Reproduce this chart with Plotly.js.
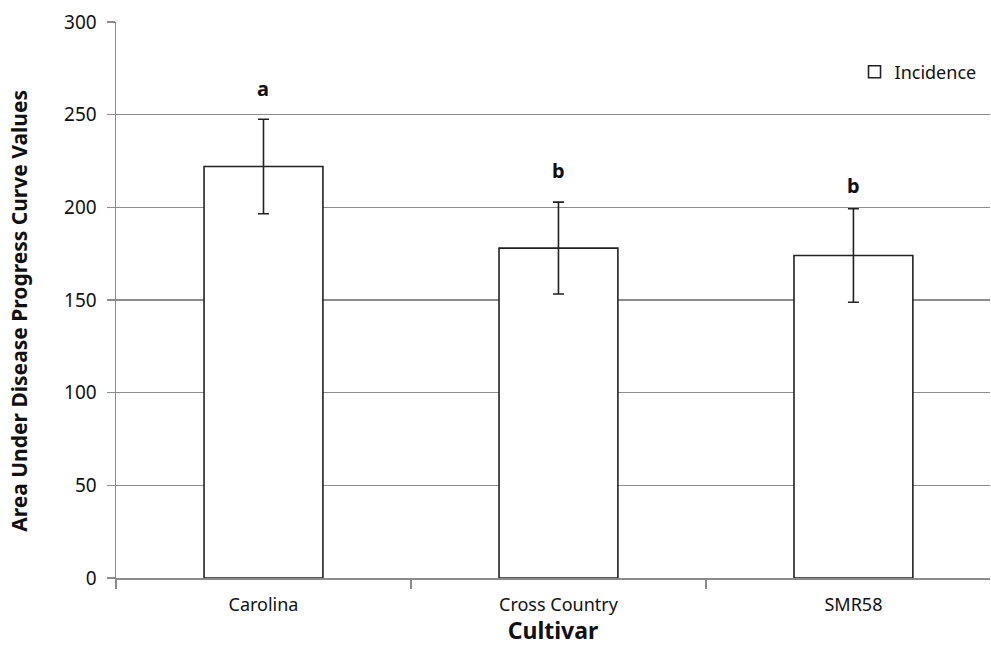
<!DOCTYPE html>
<html><head><meta charset="utf-8">
<script src="https://cdn.plot.ly/plotly-3.0.1.min.js"></script>
<style>body{margin:0;background:#fff}#chart{width:991px;height:646px}</style>
</head><body><div id="chart"></div>
<script>
const categories = ["Carolina", "Cross Country", "SMR58"];
const values = [222, 178, 174];
const errors = [25.5, 24.8, 25.2];
const letters = ["a", "b", "b"];
const letterY = [264, 220, 212];
const seriesName = "Incidence";

const FONT = "Noto Sans, Open Sans, sans-serif";
const trace = {
  type: "bar", x: categories, y: values, name: seriesName,
  width: 0.403,
  marker: {color: "#ffffff", line: {color: "#222222", width: 1.6}},
  error_y: {type: "data", array: errors, visible: true, color: "#222222", thickness: 1.6, width: 5.5},
  showlegend: true
};
const annotations = categories.map((c, i) => ({
  x: c, y: letterY[i], xref: "x", yref: "y", text: "<b>" + letters[i] + "</b>",
  showarrow: false, font: {family: FONT, size: 20, color: "#111"}
}));
const layout = {
  width: 991, height: 646,
  margin: {l: 116, r: 1, t: 22, b: 68},
  paper_bgcolor: "#fff", plot_bgcolor: "#fff",
  font: {family: FONT, size: 18, color: "#111"},
  xaxis: {
    type: "category", range: [-0.5, 2.463],
    showline: true, linecolor: "#8c8c8c", linewidth: 1.5,
    ticks: "outside", tickson: "boundaries", ticklen: 9, tickcolor: "#8c8c8c", tickwidth: 1.5,
    ticklabelstandoff: 10,
    tickfont: {family: FONT, size: 18, color: "#111"},
    title: {text: "<b>Cultivar</b>", font: {family: FONT, size: 23, color: "#111"}, standoff: 3},
    showgrid: false, zeroline: false
  },
  yaxis: {
    range: [0, 300], tickvals: [0, 50, 100, 150, 200, 250, 300],
    showline: true, linecolor: "#8c8c8c", linewidth: 1.5,
    ticks: "outside", ticklen: 8, tickcolor: "#8c8c8c", tickwidth: 1.5, ticklabelstandoff: 6,
    showgrid: true, gridcolor: "#8c8c8c", gridwidth: 1.2, zeroline: false,
    tickfont: {family: FONT, size: 19, color: "#111"},
    title: {text: "<b>Area Under Disease Progress Curve Values</b>&nbsp;&nbsp;&nbsp;&nbsp;", font: {family: FONT, size: 21, color: "#111"}, standoff: 30}
  },
  legend: {x: 0.845, y: 0.91, xanchor: "left", yanchor: "middle", bgcolor: "rgba(0,0,0,0)",
    font: {family: FONT, size: 18, color: "#111"}, itemwidth: 30},
  annotations: annotations,
  bargap: 0.6
};
Plotly.newPlot("chart", [trace], layout, {displayModeBar: false, staticPlot: true});
</script></body></html>
